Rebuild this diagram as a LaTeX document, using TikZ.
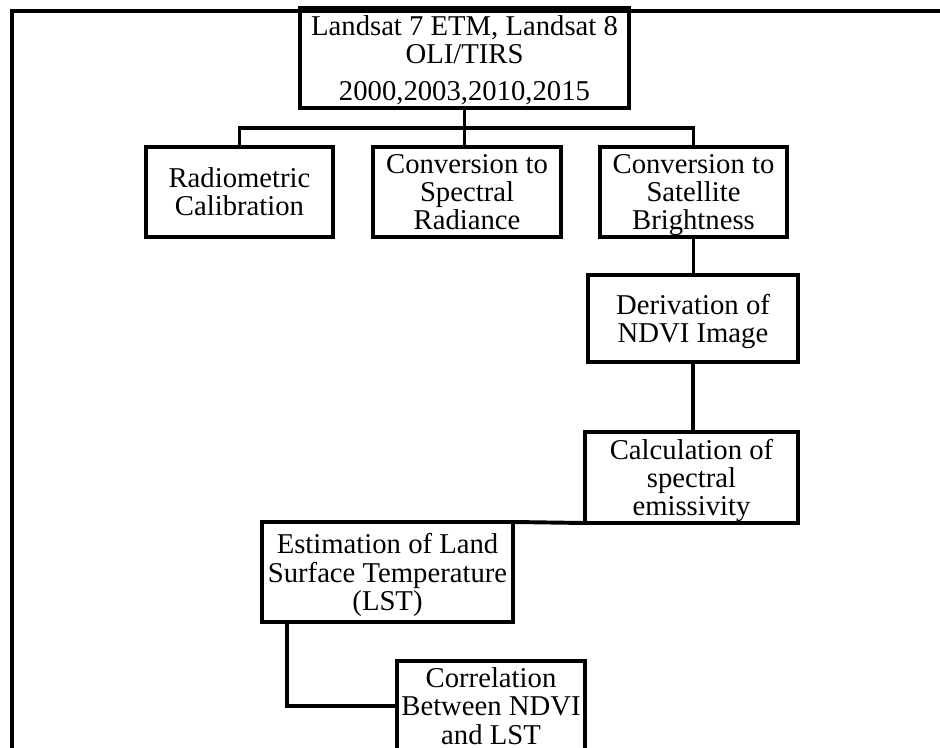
\documentclass[tikz,border=0pt]{standalone}
\usepackage{fontspec}
\setmainfont{Liberation Serif}
\usetikzlibrary{calc,positioning}
\tikzset{
  stagebox/.style={draw=black,line width=3.1pt,align=center,inner sep=0pt,outer sep=0pt,
    font=\fontsize{20.4}{20.1}\selectfont},
  link/.style={draw=black,line width=2.8pt},
  frameline/.style={draw=black,line width=2.8pt}
}

\begin{document}
\begin{tikzpicture}[x=0.025cm,y=-0.025cm]
\clip (0,0) rectangle (940,748);
\fill[white] (0,0) rectangle (940,748);
\draw[frameline] (12,770) |- (960,11);

\node[stagebox,minimum width=8.225cm,minimum height=2.5cm] (landsat) at (464.5,58) {Landsat 7 ETM, Landsat 8\\ OLI/TIRS\\[6pt] \smash{2000,2003,2010,2015}};
\node[stagebox,minimum width=4.675cm,minimum height=2.25cm] (radcal) at (239.5,192) {Radiometric\\ Calibration};
\node[stagebox,minimum width=4.7cm,minimum height=2.25cm] (specrad) at (467,192) {Conversion to\\ Spectral\\ Radiance};
\node[stagebox,minimum width=4.675cm,minimum height=2.25cm] (satbright) at (693.5,192) {Conversion to\\ Satellite\\ \smash{Brightness}};
\node[stagebox,minimum width=5.25cm,minimum height=2.175cm] (ndvi) at (693,318.5) {Derivation of\\ \smash{NDVI Image}};
\node[stagebox,minimum width=5.325cm,minimum height=2.275cm] (emis) at (691.5,477.5) {Calculation of\\ spectral\\ \smash{emissivity}};
\node[stagebox,minimum width=6.275cm,minimum height=2.5cm] (lst) at (387.5,572) {Estimation of Land\\ Surface Temperature\\ \smash{(LST)}};
\node[stagebox,minimum width=4.7cm,minimum height=2.25cm] (corr) at (491,706) {Correlation\\ Between NDVI\\ and LST};

\coordinate (bus) at (464.5,128);
\draw[link] (landsat.south) -- (landsat.south |- specrad.north);
\draw[link] (radcal.north) |- (bus) -| (satbright.north);
\draw[link] (satbright.south) -- (satbright.south |- ndvi.north);
\draw[link] (ndvi.south) -- (ndvi.south |- emis.north);
\draw[link] (lst.north east) -- (emis.south west);
\draw[link] ([xshift=0.625cm]lst.south west) |- (corr.west);
\end{tikzpicture}
\end{document}
